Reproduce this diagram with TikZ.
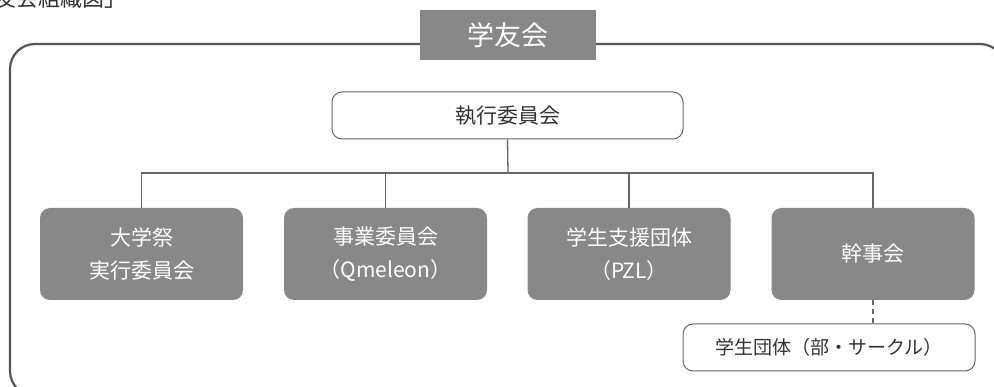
\documentclass[tikz,border=0pt]{standalone}
\usepackage{fontspec}
\setmainfont{Noto Sans CJK JP}
\definecolor{boxgray}{HTML}{888888}
\definecolor{linegray}{HTML}{666666}
\definecolor{framegray}{HTML}{555555}
\definecolor{textgray}{HTML}{333333}
\tikzset{
  unitbox/.style={fill=boxgray, text=white, rounded corners=10pt, minimum width=203pt, minimum height=92pt, inner sep=0pt, align=center, font=\fontsize{21}{33}\selectfont},
  whitebox/.style={draw=linegray, line width=1pt, fill=white, text=textgray, rounded corners=10pt, inner sep=0pt},
  conn/.style={draw=linegray, line width=1.3pt},
}
\begin{document}
\begin{tikzpicture}[x=1pt,y=-1pt]
\clip (0,0) rectangle (994,387);
\fill[white] (0,0) rectangle (994,387);
% title fragment
\node[anchor=base east, inner sep=0pt, text=textgray, font=\fontsize{22}{22}\selectfont] (title) at (127,7) {「学友会組織図」};
% outer frame
\draw[framegray, line width=2.2pt, rounded corners=25pt] (10,44) rectangle (1005,396);
% header
\node[fill=boxgray, text=white, minimum width=176pt, minimum height=50pt, inner sep=0pt, font=\fontsize{27}{27}\selectfont] (gakuyu) at (508,35) {学友会};
% executive committee
\node[whitebox, minimum width=351pt, minimum height=47pt, font=\fontsize{21}{21}\selectfont] (shikko) at (507.5,115.5) {執行委員会};
% units
\node[unitbox] (b1) at (141.5,254) {大学祭\\実行委員会};
\node[unitbox] (b2) at (385.5,254) {事業委員会\\（Qmeleon）};
\node[unitbox] (b3) at (629,254) {学生支援団体\\（PZL）};
\node[unitbox] (b4) at (873,254) {幹事会};
% student groups
\node[whitebox, minimum width=292pt, minimum height=47pt, font=\fontsize{19}{19}\selectfont] (dantai) at (829,347.5) {学生団体（部・サークル）};
% connectors
\coordinate (bus) at (508,173);
\draw[conn] (shikko.south) -- (bus);
\draw[conn] (b1.north) -- (b1.north |- bus) -- (b4.north |- bus) -- (b4.north);
\draw[conn] (b2.north) -- (b2.north |- bus);
\draw[conn] (b3.north) -- (b3.north |- bus);
\draw[conn, dashed, dash pattern=on 5pt off 4pt] (b4.south) -- (b4.south |- dantai.north);
\end{tikzpicture}
\end{document}
